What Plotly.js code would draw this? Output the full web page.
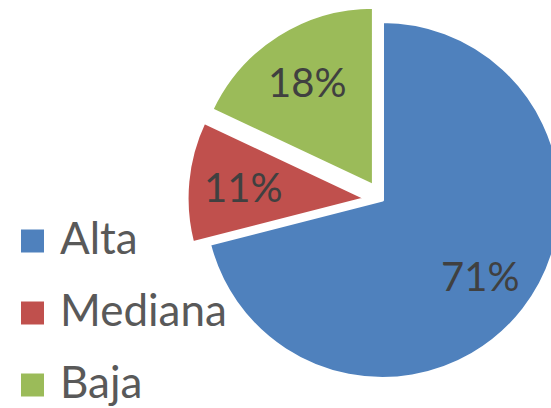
<!DOCTYPE html>
<html>
<head>
<meta charset="utf-8">
<script src="https://cdn.plot.ly/plotly-3.0.1.min.js"></script>
<style>
html, body { margin: 0; padding: 0; background: #fff; overflow: hidden; }
#chart { width: 600px; height: 408px; }
</style>
</head>
<body>
<div id="chart"></div>
<script>
// Data
const labels = ['Alta', 'Mediana', 'Baja'];
const values = [71, 11, 18];
const colors = ['#4F81BD', '#C0504D', '#9BBB59'];
const pulls = [0, 0.095, 0.095];

// Layout geometry (pixels)
const W = 600, H = 408;
const cx = 382.5, cy = 200, half = 195.5;
const dom = { x0: cx - half, x1: cx + half, y0: cy - half, y1: cy + half };
const maxPull = Math.max.apply(null, pulls);
const r = half / (1 + maxPull);
const font = 'Lato, Carlito, Calibri, sans-serif';

const px = x => x / W;
const py = y => 1 - y / H;

// Percentage labels placed along each slice's bisector
const total = values.reduce((a, b) => a + b, 0);
const annotations = [];
let cum = 0;
values.forEach((v, i) => {
  const frac = v / total;
  const mid = (cum + frac / 2) * 2 * Math.PI;
  cum += frac;
  const dist = pulls[i] * r + 0.69 * r;
  const x = cx + dist * Math.sin(mid);
  const y = cy - dist * Math.cos(mid);
  annotations.push({
    xref: 'paper', yref: 'paper', x: px(x), y: py(y),
    xanchor: 'center', yanchor: 'middle', showarrow: false,
    text: Math.round(frac * 100) + '%',
    font: { family: font, size: 40, color: '#404040' }
  });
});

// Legend built from labels/colors
const shapes = [];
labels.forEach((lab, i) => {
  const yc = 241 + 72 * i;
  shapes.push({
    type: 'rect', xref: 'paper', yref: 'paper',
    x0: px(21), x1: px(44), y0: py(yc + 11.5), y1: py(yc - 11.5),
    fillcolor: colors[i], line: { width: 0 }
  });
  annotations.push({
    xref: 'paper', yref: 'paper', x: px(58), y: py(yc - 4),
    xanchor: 'left', yanchor: 'middle', showarrow: false,
    text: lab, font: { family: font, size: 44, color: '#595959' }
  });
});

const trace = {
  type: 'pie',
  labels: labels,
  values: values,
  sort: false,
  direction: 'clockwise',
  rotation: 0,
  pull: pulls,
  marker: { colors: colors, line: { color: '#ffffff', width: 3 } },
  textinfo: 'none',
  hoverinfo: 'skip',
  showlegend: false,
  domain: { x: [dom.x0 / W, dom.x1 / W], y: [1 - dom.y1 / H, 1 - dom.y0 / H] }
};

const layout = {
  width: W, height: H,
  margin: { l: 0, r: 0, t: 0, b: 0, pad: 0 },
  paper_bgcolor: '#ffffff',
  showlegend: false,
  shapes: shapes,
  annotations: annotations
};

Plotly.newPlot('chart', [trace], layout, { displayModeBar: false, staticPlot: true });
</script>
</body>
</html>
